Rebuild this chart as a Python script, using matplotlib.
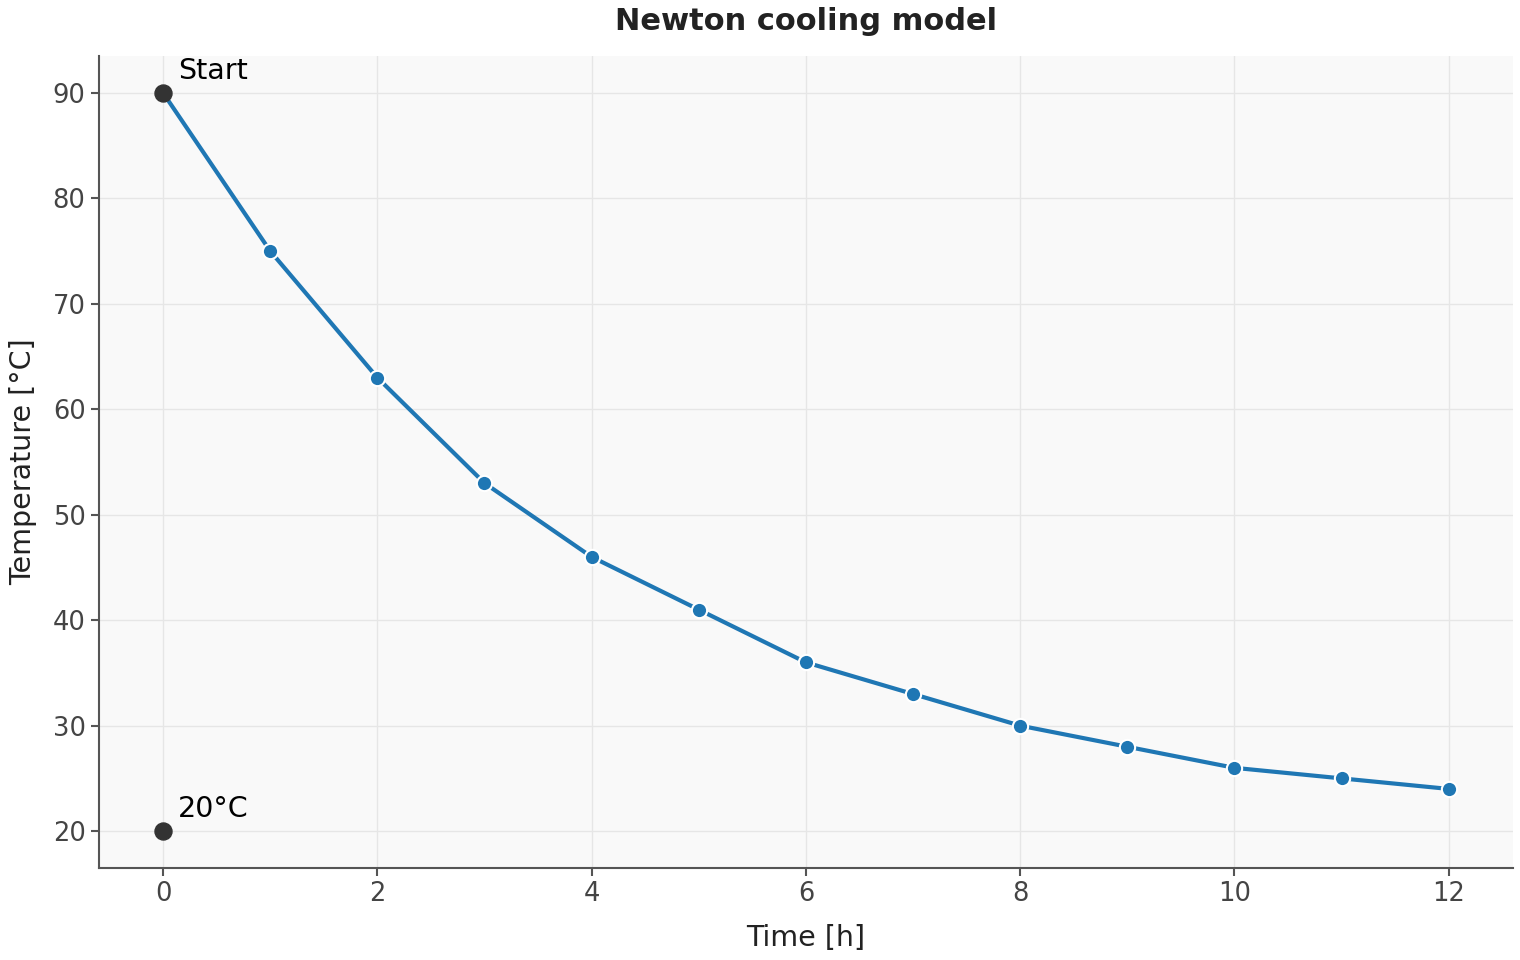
import matplotlib
matplotlib.use('Agg')
import matplotlib.pyplot as plt

# cooling curve readings
hours = [0, 1, 2, 3, 4, 5, 6, 7, 8, 9, 10, 11, 12]
temps = [90, 75, 63, 53, 46, 41, 36, 33, 30, 28, 26, 25, 24]

# highlighted points
mark_x = [0, 0]
mark_y = [90, 20]
mark_labels = ['Start', '20°C']

fig, ax = plt.subplots(figsize=(15.2, 9.6), dpi=100)
fig.subplots_adjust(left=0.065, right=0.9954, top=0.9417, bottom=0.0958)

ax.set_facecolor('#f9f9f9')
ax.grid(True, color='#e6e6e6', linewidth=1)
ax.set_axisbelow(True)

ax.plot(hours, temps, color='#1f77b4', linewidth=3, marker='o', markersize=11,
        markeredgecolor='white', markeredgewidth=1.5, zorder=3)
ax.scatter(mark_x, mark_y, s=150, color='#333333', zorder=4)
for x, y, lab in zip(mark_x, mark_y, mark_labels):
    ax.annotate(lab, (x, y), xytext=(11, 10), textcoords='offset points',
                fontsize=20.5, color='black')

ax.set_title('Newton cooling model', fontsize=22, fontweight='bold', color='#222222', pad=19)
ax.set_xlabel('Time [h]', fontsize=20.5, color='#222222', labelpad=12)
ax.set_ylabel('Temperature [°C]', fontsize=20.5, color='#222222', labelpad=11)

for side in ['top', 'right']:
    ax.spines[side].set_visible(False)
for side in ['left', 'bottom']:
    ax.spines[side].set_color('#555555')
    ax.spines[side].set_linewidth(1.5)
ax.tick_params(colors='#555555', labelcolor='#444444', labelsize=18.5, length=6, width=1.5)

fig.savefig('out.png')
